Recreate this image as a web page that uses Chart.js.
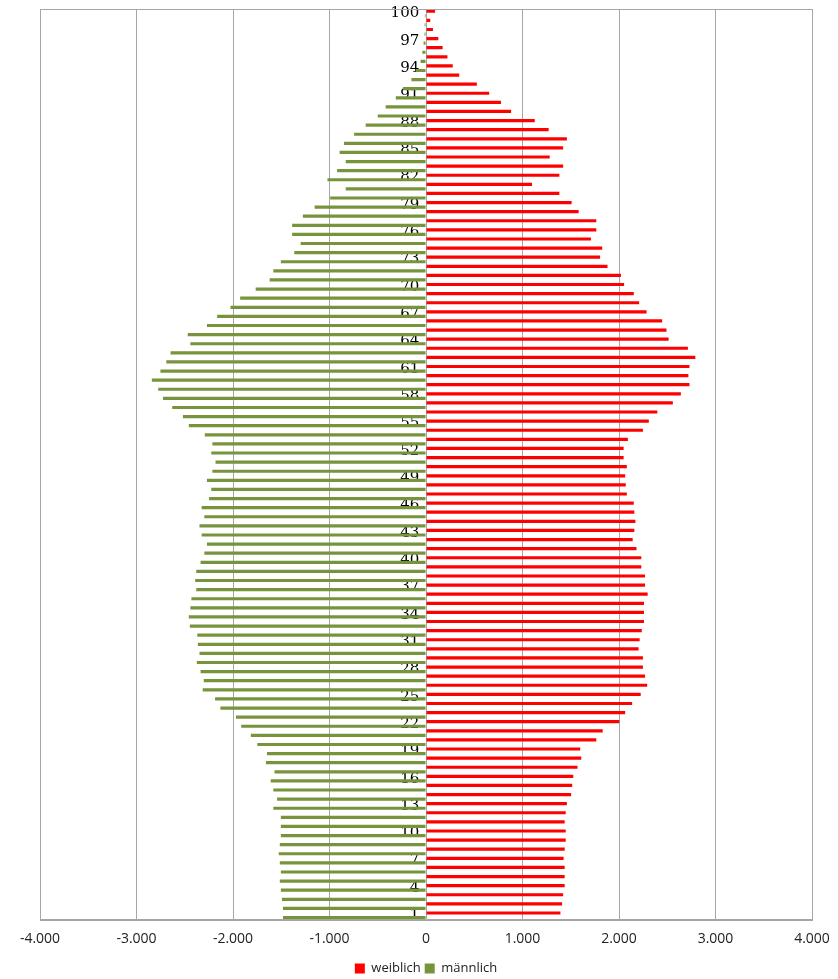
<!DOCTYPE html>
<html>
<head>
<meta charset="utf-8">
<title>Bevölkerungspyramide</title>
<script src="https://cdn.jsdelivr.net/npm/chart.js@4/dist/chart.umd.min.js"></script>
<style>
    html, body { margin: 0; padding: 0; background: #fff; }
    #wrap { width: 838px; height: 979px; }
</style>
</head>
<body>
<div id="wrap"><canvas id="pyramide" width="838" height="979"></canvas></div>
<script>
// Altersjahre 1..100
const alter = [
    1, 2, 3, 4, 5, 6, 7, 8, 9, 10,
    11, 12, 13, 14, 15, 16, 17, 18, 19, 20,
    21, 22, 23, 24, 25, 26, 27, 28, 29, 30,
    31, 32, 33, 34, 35, 36, 37, 38, 39, 40,
    41, 42, 43, 44, 45, 46, 47, 48, 49, 50,
    51, 52, 53, 54, 55, 56, 57, 58, 59, 60,
    61, 62, 63, 64, 65, 66, 67, 68, 69, 70,
    71, 72, 73, 74, 75, 76, 77, 78, 79, 80,
    81, 82, 83, 84, 85, 86, 87, 88, 89, 90,
    91, 92, 93, 94, 95, 96, 97, 98, 99, 100
];

const weiblich = [
    1393, 1410, 1421, 1437, 1437, 1437, 1426, 1437, 1448, 1448,
    1437, 1448, 1460, 1504, 1515, 1526, 1570, 1609, 1598, 1765,
    1831, 2003, 2064, 2136, 2225, 2292, 2270, 2248, 2248, 2203,
    2214, 2236, 2259, 2259, 2259, 2297, 2270, 2270, 2231, 2231,
    2181, 2142, 2159, 2170, 2159, 2153, 2081, 2070, 2064, 2081,
    2048, 2048, 2092, 2248, 2309, 2397, 2558, 2641, 2730, 2719,
    2730, 2791, 2714, 2514, 2492, 2447, 2286, 2209, 2153, 2053,
    2020, 1881, 1804, 1826, 1709, 1765, 1765, 1582, 1509, 1382,
    1099, 1382, 1421, 1282, 1421, 1460, 1271, 1127, 882, 777,
    655, 527, 344, 277, 222, 172, 128, 72, 44, 94
];

const maennlich = [
    -1482, -1482, -1493, -1504, -1515, -1504, -1515, -1526, -1515, -1504,
    -1504, -1504, -1582, -1543, -1582, -1609, -1570, -1659, -1648, -1748,
    -1815, -1915, -1970, -2131, -2186, -2314, -2303, -2336, -2375, -2347,
    -2364, -2370, -2447, -2458, -2442, -2431, -2381, -2392, -2381, -2336,
    -2297, -2270, -2325, -2347, -2297, -2325, -2248, -2225, -2270, -2214,
    -2181, -2225, -2214, -2292, -2458, -2519, -2630, -2725, -2775, -2841,
    -2752, -2691, -2647, -2442, -2469, -2270, -2164, -2026, -1926, -1765,
    -1620, -1582, -1504, -1365, -1299, -1387, -1387, -1276, -1154, -993,
    -832, -1021, -921, -832, -895, -850, -745, -625, -500, -418,
    -313, -238, -151, -108, -56, -38, -25, -15, -14, -12
];

// x-Achse
const xMin = -4000;
const xMax = 4000;
const xSchritt = 1000;

// Zahl im deutschen Format (-4.000)
function formatDe(v) {
    const s = Math.abs(v).toString().replace(/\B(?=(\d{3})+(?!\d))/g, '.');
    return (v < 0 ? '-' : '') + s;
}

// Rahmen um die Zeichenflaeche
const rahmen = {
    id: 'rahmen',
    afterDraw(chart) {
        const a = chart.chartArea;
        const ctx = chart.ctx;
        ctx.save();
        ctx.strokeStyle = '#a6a6a6';
        ctx.lineWidth = 1;
        ctx.strokeRect(Math.round(a.left) + 0.5, Math.round(a.top) + 0.5,
            Math.round(a.right - a.left), Math.round(a.bottom - a.top));
        ctx.restore();
    }
};

new Chart(document.getElementById('pyramide'), {
    type: 'bar',
    data: {
        labels: alter,
        datasets: [
            {
                label: 'weiblich',
                data: weiblich,
                backgroundColor: '#ff0000',
                borderWidth: 0,
                categoryPercentage: 1.0,
                barPercentage: 0.7
            },
            {
                label: 'männlich',
                data: maennlich,
                backgroundColor: '#77933c',
                borderWidth: 0,
                categoryPercentage: 1.0,
                barPercentage: 0.7
            }
        ]
    },
    options: {
        indexAxis: 'y',
        responsive: false,
        animation: false,
        layout: { padding: { top: 9, left: 40, right: 26, bottom: -6 } },
        plugins: {
            tooltip: { enabled: false },
            legend: {
                position: 'bottom',
                labels: {
                    boxWidth: 10,
                    boxHeight: 10,
                    padding: 4,
                    color: '#222',
                    font: { family: 'Open Sans', size: 13 }
                }
            }
        },
        scales: {
            x: {
                min: xMin,
                max: xMax,
                grid: { color: '#a6a6a6', drawTicks: false },
                border: { color: '#a6a6a6' },
                ticks: {
                    stepSize: xSchritt,
                    padding: 17,
                    color: '#222',
                    font: { family: 'Open Sans', size: 14, lineHeight: 0.3 },
                    callback: v => formatDe(v)
                },
                afterFit: s => { s.paddingLeft = 0; s.paddingRight = 0; }
            },
            y: {
                reverse: true,
                position: { x: -70 },
                grid: { display: false, drawTicks: false },
                border: { display: false },
                ticks: {
                    autoSkip: false,
                    padding: 0,
                    color: '#000',
                    font: { family: 'DejaVu Serif', size: 15 },
                    callback: function (v, i) {
                        return (i % 3 === 0) ? this.getLabelForValue(v) : '';
                    }
                },
                afterFit: s => { s.paddingTop = 0; s.paddingBottom = 0; }
            }
        }
    },
    plugins: [rahmen]
});
</script>
</body>
</html>
